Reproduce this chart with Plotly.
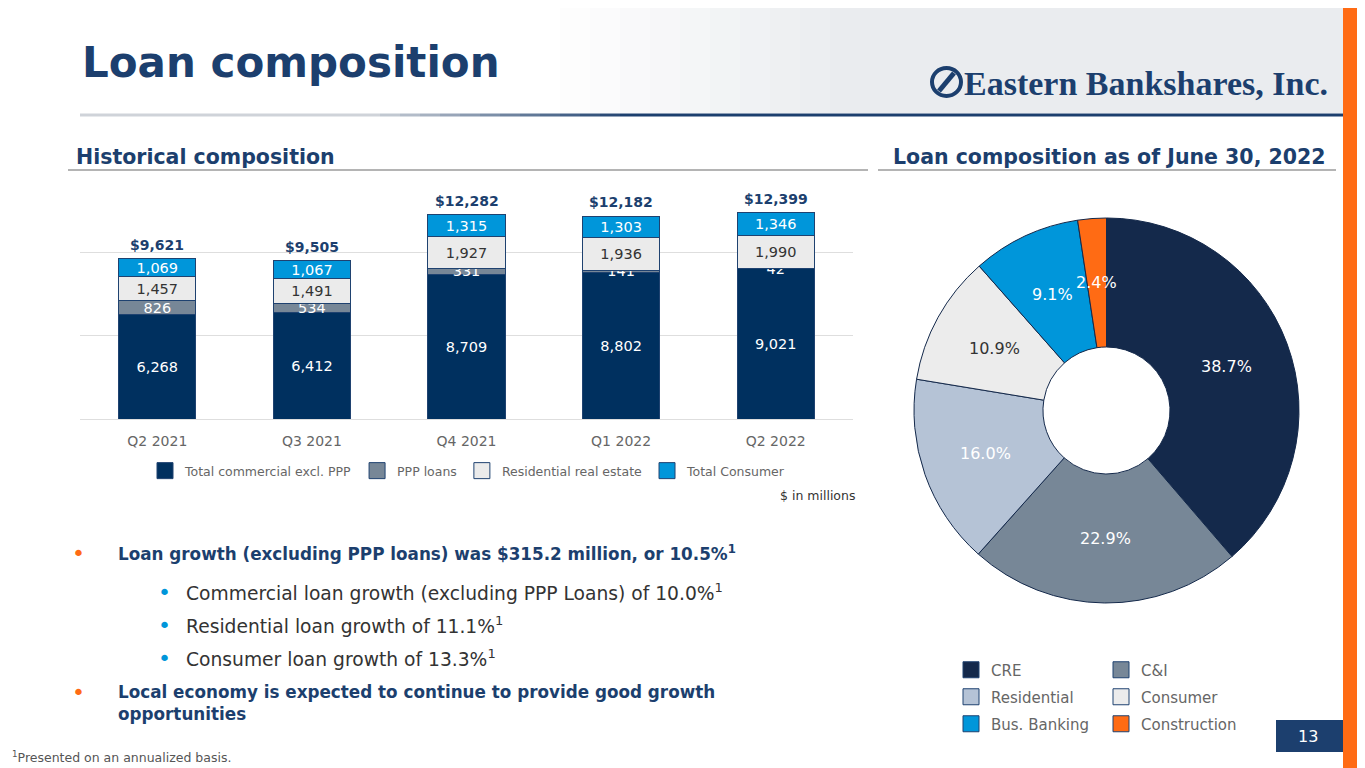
import math

import plotly.graph_objects as go

# the page body has an 8px margin, so the figure is sized to end at the window edge
OFF = 8
W, H = 1365 - OFF, 768 - OFF
NAVY = "#1c3f6e"
ORANGE = "#ff6b14"
FONT = "DejaVu Sans"

# bar chart data ($ in millions)
quarters = ["Q2 2021", "Q3 2021", "Q4 2021", "Q1 2022", "Q2 2022"]
commercial = [6268, 6412, 8709, 8802, 9021]
ppp = [826, 534, 331, 141, 42]
residential = [1457, 1491, 1927, 1936, 1990]
consumer = [1069, 1067, 1315, 1303, 1346]
totals = [9621, 9505, 12282, 12182, 12399]

# pie data (% of loans, June 30, 2022)
pie_labels = ["CRE", "C&I", "Residential", "Consumer", "Bus. Banking", "Construction"]
pie_shares = [38.7, 22.9, 16.0, 10.9, 9.1, 2.4]
pie_colors = ["#14294b", "#778797", "#b5c3d6", "#ececec", "#0096da", ORANGE]
pie_text_colors = ["white", "white", "white", "#333333", "white", "white"]

bullets = [
    ("main", "<b>Loan growth (excluding PPP loans) was $315.2 million, or 10.5%<sup>1</sup></b>"),
    ("sub", "Commercial loan growth (excluding PPP Loans) of 10.0%<sup>1</sup>"),
    ("sub", "Residential loan growth of 11.1%<sup>1</sup>"),
    ("sub", "Consumer loan growth of 13.3%<sup>1</sup>"),
    ("main", "<b>Local economy is expected to continue to provide good growth<br>opportunities</b>"),
]
bullet_rows = [553, 592, 625, 658, 703]


def px(x):
    return (x - OFF) / W


def py(y):
    return 1 - (y - OFF) / H


def mix(c1, c2, t):
    a = [int(c1[i:i + 2], 16) for i in (1, 3, 5)]
    b = [int(c2[i:i + 2], 16) for i in (1, 3, 5)]
    return "#" + "".join(f"{round(u + (v - u) * t):02x}" for u, v in zip(a, b))


fig = go.Figure()

bar_series = [
    ("Total commercial excl. PPP", commercial, "#00305f", "white"),
    ("PPP loans", ppp, "#778797", "white"),
    ("Residential real estate", residential, "#ebebeb", "#333333"),
    ("Total Consumer", consumer, "#0096da", "white"),
]
for name, values, color, text_color in bar_series:
    fig.add_trace(go.Bar(
        x=quarters, y=values, name=name,
        marker=dict(color=color, line=dict(color="#1f4270", width=1)),
        text=[f"{v:,}" for v in values],
        textposition="inside", insidetextanchor="middle",
        textangle=0, constraintext="none",
        textfont=dict(family=FONT, size=14.5, color=text_color),
        hoverinfo="skip", showlegend=False,
    ))

# pie geometry (page pixels)
pie_left, pie_right, pie_top, pie_bottom = 913, 1300, 218, 603
hole = 0.33
fig.add_trace(go.Pie(
    labels=pie_labels, values=pie_shares, textinfo="none",
    marker=dict(colors=pie_colors, line=dict(color="#14294b", width=1)),
    hole=hole, sort=False, direction="clockwise", rotation=0,
    domain=dict(x=[px(pie_left), px(pie_right)], y=[py(pie_bottom), py(pie_top)]),
    showlegend=False, hoverinfo="skip",
))


# legend entries (square swatches) for bars and pie
def legend_swatch(name, color, legend):
    return go.Scatter(
        x=[None], y=[None], mode="markers", name=name,
        marker=dict(symbol="square", size=16, color=color,
                    line=dict(color="#1f4270", width=1)),
        xaxis="x2", yaxis="y2", legend=legend, hoverinfo="skip",
    )


for name, _, color, _ in bar_series:
    fig.add_trace(legend_swatch(name, color, "legend"))
for i, (lab, col) in enumerate(zip(pie_labels, pie_colors)):
    fig.add_trace(legend_swatch(lab, col, f"legend{2 + i // 2}"))

legend_rows = {}
for r, yy in enumerate([670, 697, 724]):
    legend_rows[f"legend{2 + r}"] = dict(
        orientation="h", x=px(951), xanchor="left", y=py(yy), yanchor="middle",
        entrywidth=105, entrywidthmode="pixels",
        font=dict(family=FONT, size=15, color="#666666"),
        bgcolor="rgba(0,0,0,0)", traceorder="normal",
    )

BANNER = "#eaecef"
shapes = []
# faded banner behind the header (stands in for the skyline photo)
steps = 10
for k in range(steps):
    x0 = 560 + k * 30
    shapes.append(dict(type="rect", x0=px(x0), x1=px(x0 + 30), y0=py(113), y1=1,
                       fillcolor=mix("#ffffff", BANNER, (k + 1) / steps),
                       line_width=0, layer="below"))
shapes.append(dict(type="rect", x0=px(860), x1=px(1343), y0=py(113), y1=1,
                   fillcolor=BANNER, line_width=0, layer="below"))
# header rule fading from grey to navy
shapes.append(dict(type="line", x0=px(80), x1=px(380), y0=py(115), y1=py(115),
                   line=dict(color="#cfd3d9", width=3)))
for k in range(13):
    x0 = 380 + k * 20
    shapes.append(dict(type="line", x0=px(x0), x1=px(x0 + 20), y0=py(115), y1=py(115),
                       line=dict(color=mix("#cfd3d9", NAVY, (k + 1) / 13), width=3)))
shapes.append(dict(type="line", x0=px(640), x1=px(1343), y0=py(115), y1=py(115),
                   line=dict(color=NAVY, width=3)))
shapes += [
    dict(type="rect", x0=px(1343), x1=1, y0=0, y1=1, fillcolor=ORANGE, line_width=0),
    dict(type="line", x0=px(68), x1=px(868), y0=py(170), y1=py(170),
         line=dict(color="#b4b4b4", width=2)),
    dict(type="line", x0=px(878), x1=px(1336), y0=py(170), y1=py(170),
         line=dict(color="#b4b4b4", width=2)),
    dict(type="rect", x0=px(1276), x1=px(1343), y0=py(752), y1=py(720),
         fillcolor=NAVY, line_width=0),
    dict(type="circle", x0=px(932), x1=px(961), y0=py(96), y1=py(68),
         line=dict(color=NAVY, width=4)),
    dict(type="line", x0=px(939), x1=px(954), y0=py(91), y1=py(73),
         line=dict(color=NAVY, width=5)),
]
for s in shapes:
    s.update(xref="paper", yref="paper")

annotations = [
    dict(x=px(80), y=py(62), text="<b>Loan composition</b>", xanchor="left",
         yanchor="middle", font=dict(family=FONT, size=42, color=NAVY)),
    dict(x=px(1330), y=py(83), text="<b>Eastern Bankshares, Inc.</b>", xanchor="right",
         yanchor="middle", font=dict(family="Liberation Serif", size=34, color=NAVY)),
    dict(x=px(74), y=py(157), text="<b>Historical composition</b>", xanchor="left",
         yanchor="middle", font=dict(family=FONT, size=20.5, color=NAVY)),
    dict(x=px(1328), y=py(157), text="<b>Loan composition as of June 30, 2022</b>",
         xanchor="right", yanchor="middle", font=dict(family=FONT, size=20.5, color=NAVY)),
    dict(x=px(857), y=py(495), text="$ in millions", xanchor="right", yanchor="middle",
         font=dict(family=FONT, size=12.5, color="#333333")),
    dict(x=px(10), y=py(757), text="<sup>1</sup>Presented on an annualized basis.",
         xanchor="left", yanchor="middle", font=dict(family=FONT, size=12.5, color="#555555")),
    dict(x=px(1296), y=py(736), text="13", xanchor="left", yanchor="middle",
         font=dict(family=FONT, size=16, color="white")),
]
for a in annotations:
    a.update(xref="paper", yref="paper")

# stack totals above the bars, on the bar axes
for q, tot in zip(quarters, totals):
    annotations.append(dict(
        x=q, y=tot, xref="x", yref="y", text=f"<b>${tot:,}</b>",
        xanchor="center", yanchor="bottom", yshift=4,
        font=dict(family=FONT, size=14, color=NAVY)))

# pie labels sit on the middle of the ring, at each slice's middle angle
cx = (pie_left + pie_right) / 2
cy = (pie_top + pie_bottom) / 2
r_out = min(pie_right - pie_left, pie_bottom - pie_top) / 2
r_mid = r_out * (1 + hole) / 2
total_share = sum(pie_shares)
cum = 0.0
for share, tcol in zip(pie_shares, pie_text_colors):
    ang = 2 * math.pi * (cum + share / 2) / total_share
    cum += share
    annotations.append(dict(
        x=px(cx + r_mid * math.sin(ang)), y=py(cy - r_mid * math.cos(ang)),
        xref="paper", yref="paper",
        text=f"{share:.1f}%", xanchor="center", yanchor="middle",
        font=dict(family=FONT, size=16, color=tcol)))

for (kind, txt), yy in zip(bullets, bullet_rows):
    main = kind == "main"
    bx, tx = (78, 116) if main else (164, 184)
    annotations.append(dict(
        x=px(bx), y=py(yy if "<br>" not in txt else 692), text="•",
        xref="paper", yref="paper", xanchor="center", yanchor="middle",
        font=dict(family=FONT, size=22, color=ORANGE if main else "#0096da")))
    annotations.append(dict(
        x=px(tx), y=py(yy), text=txt, xref="paper", yref="paper",
        xanchor="left", yanchor="middle", align="left",
        font=dict(family=FONT, size=16.8 if main else 18.7,
                  color=NAVY if main else "#333333")))
for a in annotations:
    a["showarrow"] = False

fig.update_layout(
    width=W, height=H, margin=dict(l=0, r=0, t=0, b=0),
    paper_bgcolor="white", plot_bgcolor="white",
    barmode="stack", bargap=0.5,
    font=dict(family=FONT, color="#333333"),
    xaxis=dict(domain=[px(80), px(853)], type="category",
               tickfont=dict(family=FONT, size=14, color="#666666"),
               ticks="outside", ticklen=9, tickcolor="rgba(0,0,0,0)",
               showline=False, showgrid=False, fixedrange=True),
    yaxis=dict(domain=[py(419), py(186)], range=[0, 14000], dtick=5000,
               showticklabels=False, showgrid=True, gridcolor="#dedede",
               zeroline=True, zerolinecolor="#dedede", zerolinewidth=1,
               fixedrange=True),
    xaxis2=dict(domain=[0, 0.01], visible=False, anchor="y2"),
    yaxis2=dict(domain=[0, 0.01], visible=False, anchor="x2"),
    legend=dict(orientation="h", x=px(468), xanchor="center", y=py(471),
                yanchor="middle", font=dict(family=FONT, size=12.5, color="#666666"),
                bgcolor="rgba(0,0,0,0)", traceorder="normal"),
    shapes=shapes, annotations=annotations,
    **legend_rows,
)

fig.write_html("out.html")
